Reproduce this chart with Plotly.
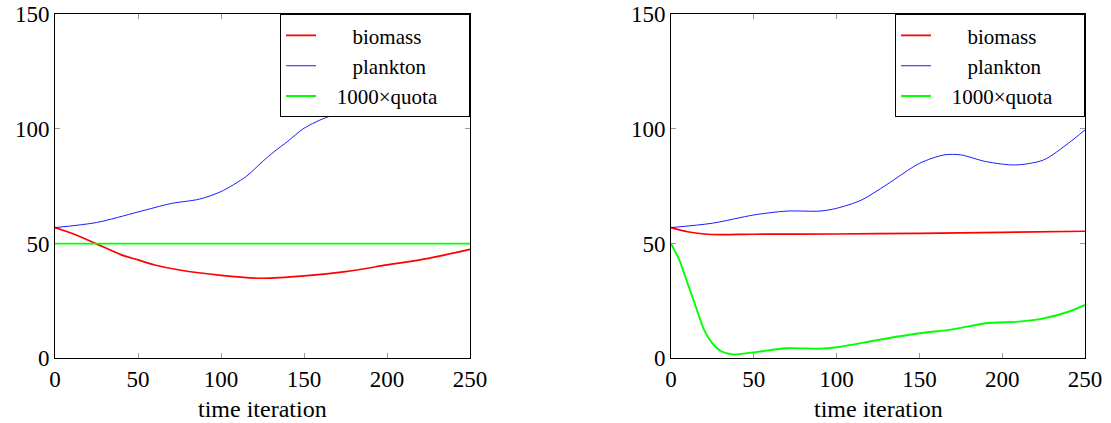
import plotly.graph_objects as go

W, H = 1111, 423

# ---------------- data ----------------
left_bio_x = [0, 10, 25, 40, 50, 60, 75, 100, 125, 150, 175, 200, 225, 250]
left_bio_y = [57.0, 54.5, 49.9, 45.1, 42.9, 40.7, 38.5, 36.2, 34.9, 35.9, 37.8, 40.7, 43.6, 47.5]

left_pl_x = [0, 25, 50, 70, 87, 100, 115, 125, 132, 140, 150, 165, 178, 190, 203, 215, 225, 240, 250]
left_pl_y = [57.0, 59.2, 63.8, 67.5, 69.4, 72.7, 79.2, 85.8, 90.1, 94.5, 100.3, 105.4, 106.8, 106.4, 105.5, 106.8, 108.8, 112.5, 115.0]

left_q_x = [0, 250]
left_q_y = [50.0, 50.0]

right_bio_x = [0, 10, 20, 30, 50, 100, 150, 200, 250]
right_bio_y = [57.0, 55.2, 54.2, 53.9, 54.1, 54.2, 54.5, 54.9, 55.4]

right_pl_x = [0, 25, 50, 70, 90, 100, 115, 130, 150, 165, 175, 190, 208, 225, 240, 250]
right_pl_y = [57.0, 58.9, 62.5, 64.2, 64.2, 65.4, 69.0, 75.6, 85.0, 88.7, 88.7, 85.8, 84.3, 86.5, 93.8, 99.6]

right_q_x = [0, 5, 10, 15, 20, 25, 30, 37, 50, 70, 90, 100, 125, 150, 170, 190, 210, 225, 240, 250]
right_q_y = [50.0, 42.9, 32.7, 22.5, 12.4, 6.5, 3.2, 1.7, 2.6, 4.4, 4.2, 4.8, 8.0, 10.9, 12.6, 15.3, 16.0, 17.4, 20.3, 23.3]

names = ["biomass", "plankton", "1000×quota"]
x_ticks = [0, 50, 100, 150, 200, 250]
y_ticks = [0, 50, 100, 150]
x_title = "time iteration"

# ---------------- styling ----------------
FONT = "Liberation Serif"
FS = 23
LFS = 21
colors = ["#ff0000", "#0000ff", "#00ff00"]
widths = [1.7, 0.9, 1.9]
NB = "\u00a0"
pads = [NB * 6 + names[0], NB * 6 + names[1], NB * 3 + names[2] + NB * 5]

fig = go.Figure()

panels = [
    ("x", "y", "legend", [(left_bio_x, left_bio_y), (left_pl_x, left_pl_y), (left_q_x, left_q_y)]),
    ("x2", "y2", "legend2", [(right_bio_x, right_bio_y), (right_pl_x, right_pl_y), (right_q_x, right_q_y)]),
]
for xa, ya, lg, series in panels:
    for i, (xs, ys) in enumerate(series):
        fig.add_trace(go.Scatter(
            x=xs, y=ys, mode="lines", name=pads[i],
            line=dict(color=colors[i], width=widths[i], shape="spline", smoothing=0.8),
            xaxis=xa, yaxis=ya, legend=lg, showlegend=True,
        ))

ydom = [1 - 358.3 / H, 1 - 14.3 / H]
xdom1 = [55 / W, 470 / W]
xdom2 = [671 / W, 1085 / W]

axis_common = dict(
    showline=True, linecolor="black", linewidth=1, mirror="allticks",
    ticks="inside", ticklen=5, tickcolor="#999999", tickwidth=1,
    showgrid=False, zeroline=False, automargin=False,
    tickfont=dict(family=FONT, size=FS, color="black"),
)

legend_common = dict(
    bgcolor="white", bordercolor="black", borderwidth=1,
    font=dict(family=FONT, size=LFS, color="black"),
    xanchor="right", yanchor="top", y=ydom[1],
    tracegroupgap=0, itemwidth=30,
)

fig.update_layout(
    width=W, height=H,
    margin=dict(l=0, r=0, t=0, b=0, autoexpand=False),
    paper_bgcolor="white", plot_bgcolor="white",
    showlegend=True,
    xaxis=dict(domain=xdom1, range=[0, 250], tickvals=x_ticks, anchor="y", **axis_common),
    yaxis=dict(domain=ydom, range=[0, 150], tickvals=y_ticks, anchor="x", **axis_common),
    xaxis2=dict(domain=xdom2, range=[0, 250], tickvals=x_ticks, anchor="y2", **axis_common),
    yaxis2=dict(domain=ydom, range=[0, 150], tickvals=y_ticks, anchor="x2", **axis_common),
    legend=dict(x=xdom1[1], **legend_common),
    legend2=dict(x=xdom2[1], **legend_common),
)

for dom in (xdom1, xdom2):
    fig.add_annotation(
        text=x_title, xref="paper", yref="paper",
        x=(dom[0] + dom[1]) / 2, y=1 - 409 / H,
        xanchor="center", yanchor="middle", showarrow=False,
        font=dict(family=FONT, size=FS + 1, color="black"),
    )

fig.write_html(
    "out.html",
    config={"displayModeBar": False},
    post_script="document.body.style.margin='0';document.body.style.padding='0';",
)
